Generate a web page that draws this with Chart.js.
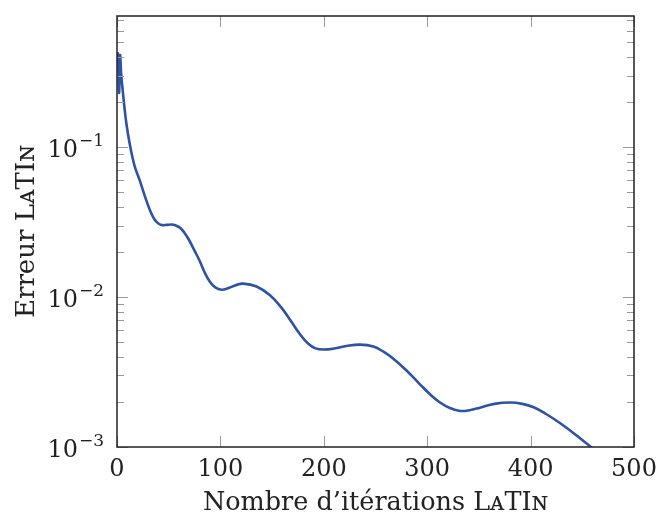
<!DOCTYPE html>
<html>
<head>
<meta charset="utf-8">
<script src="https://cdn.jsdelivr.net/npm/chart.js@4"></script>
<style>
  html, body { margin: 0; padding: 0; background: #fff; }
  canvas { display: block; }
</style>
</head>
<body>
<canvas id="errChart" width="659" height="519"></canvas>
<script>
// LATIN error vs iteration count
const iterations = [0, 1, 2, 3, 4, 5, 7, 9, 12, 17, 22, 27, 32, 36, 40, 44, 48, 53, 57, 61, 65, 69, 75, 80, 85, 90, 95, 101, 108, 115, 122, 135, 148, 159, 168, 177, 185, 192, 200, 210, 222, 235, 248, 258, 267, 280, 293, 303, 312, 322, 332, 341, 351, 365, 380, 392, 403, 415, 428, 442, 456, 465];
const latinError = [0.36, 0.42, 0.23, 0.41, 0.31, 0.26, 0.19, 0.145, 0.108, 0.075, 0.060, 0.047, 0.0378, 0.0332, 0.0310, 0.0302, 0.0303, 0.0305, 0.0300, 0.0290, 0.0270, 0.0245, 0.0204, 0.0174, 0.0145, 0.0126, 0.0116, 0.0112, 0.0115, 0.0120, 0.0123, 0.01176, 0.01028, 0.0085, 0.00695, 0.00565, 0.00488, 0.00455, 0.00447, 0.00454, 0.00472, 0.00482, 0.00468, 0.00431, 0.0039, 0.00324, 0.00262, 0.00224, 0.00199, 0.00182, 0.00174, 0.00176, 0.00183, 0.00194, 0.00198, 0.00194, 0.00184, 0.00166, 0.00145, 0.00123, 0.00103, 0.00092];

const xTickValues = [0, 100, 200, 300, 400, 500];
const yDecades = [0.001, 0.01, 0.1];
const yExponents = ['\u22123', '\u22122', '\u22121'];
const yMinorFactors = [2, 3, 4, 5, 6, 7, 8, 9];

const serif = "'DejaVu Serif', serif";

// pgfplots-like box with inward ticks and 10^n labels
const frameTicks = {
    id: 'frameTicks',
    afterDatasetsDraw(chart) {
        const { ctx, chartArea: a, scales: { x, y } } = chart;
        ctx.save();
        ctx.strokeStyle = '#9a9a9a';
        ctx.lineWidth = 1;
        ctx.beginPath();
        xTickValues.forEach(v => {
            const px = Math.round(x.getPixelForValue(v)) + 0.5;
            ctx.moveTo(px, a.bottom); ctx.lineTo(px, a.bottom - 11);
            ctx.moveTo(px, a.top); ctx.lineTo(px, a.top + 11);
        });
        yDecades.forEach(d => {
            [1, ...yMinorFactors].forEach(m => {
                const v = d * m;
                if (v > y.max) return;
                const len = m === 1 ? 11 : 7;
                const py = Math.round(y.getPixelForValue(v)) + 0.5;
                ctx.moveTo(a.left, py); ctx.lineTo(a.left + len, py);
                ctx.moveTo(a.right, py); ctx.lineTo(a.right - len, py);
            });
        });
        ctx.stroke();

        ctx.strokeStyle = '#222';
        ctx.lineWidth = 1.5;
        ctx.strokeRect(a.left, a.top, a.right - a.left, a.bottom - a.top);

        ctx.fillStyle = '#222';
        ctx.textAlign = 'right';
        ctx.textBaseline = 'alphabetic';
        yDecades.forEach((d, i) => {
            const py = y.getPixelForValue(d);
            ctx.font = '17px ' + serif;
            const expW = ctx.measureText(yExponents[i]).width;
            ctx.fillText(yExponents[i], a.left - 13, py - 1);
            ctx.font = '24px ' + serif;
            ctx.fillText('10', a.left - 14 - expW, py + 10);
        });
        ctx.restore();
    }
};

new Chart(document.getElementById('errChart'), {
    type: 'line',
    data: {
        datasets: [{
            data: iterations.map((it, i) => ({ x: it, y: latinError[i] })),
            borderColor: '#2d52a6',
            borderWidth: 2.6,
            pointRadius: 0,
            tension: 0.4,
            fill: false
        }]
    },
    options: {
        responsive: false,
        animation: false,
        devicePixelRatio: 1,
        layout: { padding: { top: 16, right: 25, left: 0, bottom: 0 } },
        plugins: { legend: { display: false }, tooltip: { enabled: false } },
        scales: {
            x: {
                type: 'linear',
                min: 0,
                max: 500,
                grid: { display: false },
                border: { display: false },
                ticks: { stepSize: 100, padding: 0, color: '#222', font: { family: serif, size: 24 } },
                title: {
                    display: true,
                    text: 'Nombre d\u2019itérations L\u1D00TI\u0274',
                    color: '#222',
                    font: { family: serif, size: 25.5 },
                    padding: { top: 0, bottom: 0 }
                },
                afterFit: s => { s.height = 72; s.paddingLeft = 0; s.paddingRight = 0; }
            },
            y: {
                type: 'logarithmic',
                min: 0.001,
                max: 0.75,
                grid: { display: false },
                border: { display: false },
                ticks: { display: false },
                title: {
                    display: true,
                    text: 'Erreur L\u1D00TI\u0274',
                    color: '#222',
                    font: { family: serif, size: 26 },
                    padding: { top: 12, bottom: 0 }
                },
                afterFit: s => { s.width = 117; }
            }
        }
    },
    plugins: [frameTicks]
});
</script>
</body>
</html>
